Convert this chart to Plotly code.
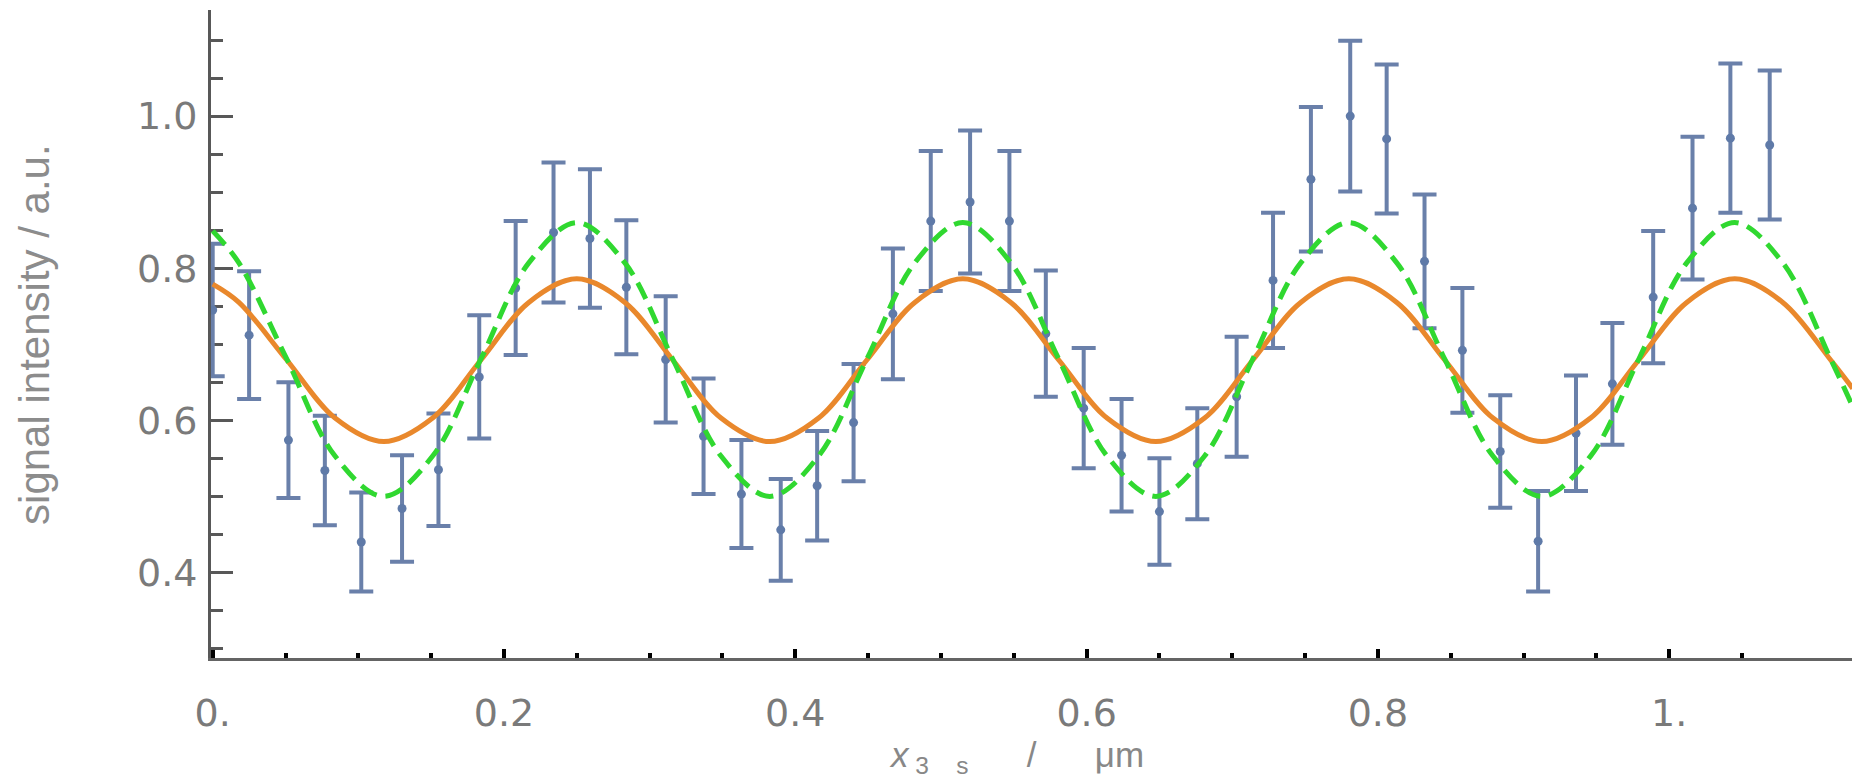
import plotly.graph_objects as go

x_data = [0.0, 0.025, 0.052, 0.077, 0.102, 0.13, 0.155, 0.183, 0.208, 0.234,
          0.259, 0.284, 0.311, 0.337, 0.363, 0.39, 0.415, 0.44, 0.467, 0.493,
          0.52, 0.547, 0.572, 0.598, 0.624, 0.65, 0.676, 0.703, 0.728, 0.754,
          0.781, 0.806, 0.832, 0.858, 0.884, 0.91, 0.936, 0.961, 0.989, 1.016,
          1.042, 1.069]
y_data = [0.745, 0.712, 0.574, 0.534, 0.440, 0.484, 0.535, 0.657, 0.774, 0.847,
          0.839, 0.775, 0.680, 0.579, 0.503, 0.456, 0.514, 0.597, 0.740, 0.862,
          0.887, 0.862, 0.714, 0.616, 0.554, 0.480, 0.543, 0.631, 0.784, 0.917,
          1.000, 0.970, 0.809, 0.692, 0.559, 0.441, 0.583, 0.648, 0.762, 0.879,
          0.971, 0.962]
y_err = [0.087, 0.084, 0.076, 0.072, 0.065, 0.070, 0.074, 0.081, 0.088, 0.092,
         0.091, 0.088, 0.083, 0.076, 0.071, 0.067, 0.072, 0.077, 0.086, 0.092,
         0.094, 0.092, 0.083, 0.079, 0.074, 0.070, 0.073, 0.079, 0.089, 0.095,
         0.099, 0.098, 0.088, 0.082, 0.074, 0.066, 0.076, 0.080, 0.087, 0.094,
         0.098, 0.098]

# ---- fitted curves ----
fit_x = [0.0, 0.018, 0.051, 0.084, 0.1175, 0.151, 0.184, 0.217, 0.25, 0.283,
         0.316, 0.349, 0.3825, 0.416, 0.449, 0.482, 0.515, 0.548, 0.581, 0.614,
         0.6475, 0.681, 0.714, 0.747, 0.78, 0.813, 0.846, 0.879, 0.9125, 0.946,
         0.979, 1.012, 1.045, 1.078, 1.111, 1.126]
orange_fit = [0.779, 0.755, 0.679, 0.603, 0.572, 0.603, 0.679, 0.755, 0.786, 0.755,
              0.679, 0.603, 0.572, 0.603, 0.679, 0.755, 0.786, 0.755, 0.679, 0.603,
              0.572, 0.603, 0.679, 0.755, 0.786, 0.755, 0.679, 0.603, 0.572, 0.603,
              0.679, 0.755, 0.786, 0.755, 0.679, 0.642]
green_fit = [0.849, 0.807, 0.680, 0.553, 0.500, 0.553, 0.680, 0.807, 0.860, 0.807,
             0.680, 0.553, 0.500, 0.553, 0.680, 0.807, 0.860, 0.807, 0.680, 0.553,
             0.500, 0.553, 0.680, 0.807, 0.860, 0.807, 0.680, 0.553, 0.500, 0.553,
             0.680, 0.807, 0.860, 0.807, 0.680, 0.618]

# ---- ticks ----
x_tick_vals = [0.0, 0.2, 0.4, 0.6, 0.8, 1.0]
x_tick_text = ["0.", "0.2", "0.4", "0.6", "0.8", "1."]
x_minor_vals = [0.05, 0.1, 0.15, 0.25, 0.3, 0.35, 0.45, 0.5, 0.55, 0.65, 0.7,
                0.75, 0.85, 0.9, 0.95, 1.05]
y_tick_vals = [0.4, 0.6, 0.8, 1.0]
y_tick_text = ["0.4", "0.6", "0.8", "1.0"]
y_minor_vals = [0.3, 0.35, 0.45, 0.5, 0.55, 0.65, 0.7, 0.75, 0.85, 0.9, 0.95,
                1.05, 1.1]

NB = "\u00a0"
x_title = ("<i>x</i><sub>" + NB + "3" + NB * 4 + "s</sub>" + NB * 6 + "/" +
           NB * 6 + "\u03bcm")
y_title = "signal intensity / a.u."

fig = go.Figure()
fig.add_trace(go.Scatter(
    x=x_data, y=y_data, mode="markers",
    marker=dict(color="#5f7aa8", size=9),
    error_y=dict(type="data", array=y_err, visible=True,
                 color="#6a80aa", thickness=4, width=12),
    hoverinfo="skip"))
fig.add_trace(go.Scatter(
    x=fit_x, y=orange_fit, mode="lines",
    line=dict(color="#e9882c", width=5, shape="spline"),
    hoverinfo="skip"))
fig.add_trace(go.Scatter(
    x=fit_x, y=green_fit, mode="lines",
    line=dict(color="#30d830", width=5, dash="18px,9px", shape="spline"),
    hoverinfo="skip"))

tick_font = dict(family="DejaVu Sans", size=38, color="#7a7a7a")

fig.update_layout(
    width=1857, height=781,
    margin=dict(l=211, r=5, t=10, b=123),
    paper_bgcolor="white", plot_bgcolor="white",
    showlegend=False,
    annotations=[
        dict(text=y_title, textangle=-90, xref="paper", yref="paper",
             x=-0.1079, y=0.5, xanchor="center", yanchor="middle",
             showarrow=False,
             font=dict(family="Liberation Sans", size=42, color="#8c8c8c")),
        dict(text=x_title, xref="paper", yref="paper",
             x=0.4909, y=-0.1905, xanchor="center", yanchor="bottom",
             showarrow=False,
             font=dict(family="Liberation Sans", size=35, color="#888888")),
    ],
)
fig.update_xaxes(
    range=[-0.00117, 1.1255], showline=True, linecolor="#646464", linewidth=3,
    ticks="inside", tickvals=x_tick_vals, ticktext=x_tick_text,
    ticklen=9, tickwidth=4, tickcolor="black",
    showgrid=False, zeroline=False, tickfont=tick_font,
    ticklabelstandoff=19, layer="below traces",
    minor=dict(tickmode="array", tickvals=x_minor_vals, ticks="inside",
               ticklen=5, tickwidth=4, tickcolor="black", showgrid=False))
fig.update_yaxes(
    range=[0.2875, 1.1395], showline=True, linecolor="#585858", linewidth=3,
    ticks="inside", tickvals=y_tick_vals, ticktext=y_tick_text,
    ticklen=22, tickwidth=3, tickcolor="#585858",
    showgrid=False, zeroline=False, tickfont=tick_font,
    ticklabelstandoff=3, layer="below traces",
    minor=dict(tickmode="array", tickvals=y_minor_vals, ticks="inside",
               ticklen=12, tickwidth=3, tickcolor="#585858", showgrid=False))

fig.write_html("out.html", config={"displayModeBar": False})
